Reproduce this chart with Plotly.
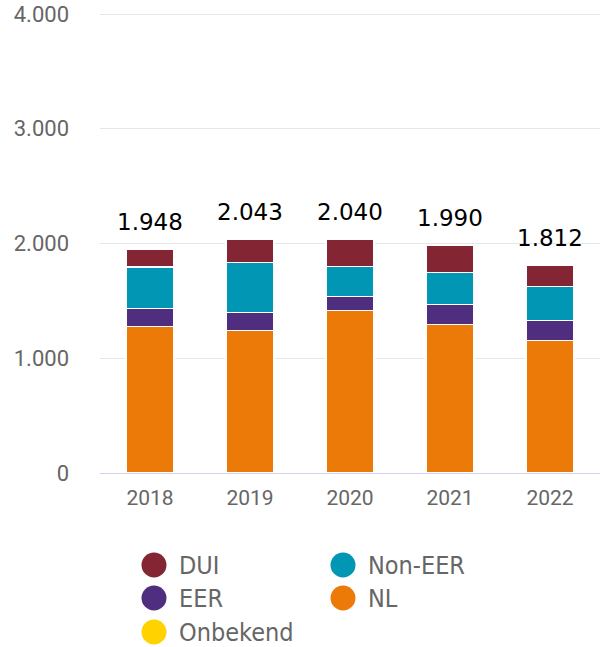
import plotly.graph_objects as go

years = ["2018", "2019", "2020", "2021", "2022"]
nl = [1280, 1245, 1415, 1295, 1158]
eer = [155, 155, 125, 172, 172]
non_eer = [360, 435, 260, 280, 296]
dui = [150, 205, 237, 240, 183]
onbekend = [3, 3, 3, 3, 3]
totals = [1948, 2043, 2040, 1990, 1812]
total_labels = ["1.948", "2.043", "2.040", "1.990", "1.812"]
y_ticks = [0, 1000, 2000, 3000, 4000]
y_tick_labels = ["0", "1.000", "2.000", "3.000", "4.000"]

series = [
    ("NL", nl, "#ec7a08"),
    ("EER", eer, "#4f2d7f"),
    ("Non-EER", non_eer, "#0096b4"),
    ("DUI", dui, "#842533"),
    ("Onbekend", onbekend, "#ffd200"),
]
legend_order = ["DUI", "Non-EER", "EER", "NL", "Onbekend"]
color_of = {n: c for n, _, c in series}

fig = go.Figure()
for name, vals, col in series:
    fig.add_trace(go.Bar(
        x=years, y=vals, name=name, marker_color=col,
        marker_line_color="white", marker_line_width=1.2,
        showlegend=False, hoverinfo="x+y+name",
    ))

# total labels: category axis annotations use the category index
for i, (tot, lab) in enumerate(zip(totals, total_labels)):
    fig.add_annotation(x=i, y=tot, xref="x", yref="y", text=lab, showarrow=False,
                       yanchor="bottom", yshift=12,
                       font=dict(family="DejaVu Sans", size=23, color="#000000"))

W, H = 600, 647
ml, mr, mt, mb = 100, 0, 13, 174
pw, ph = W - ml - mr, H - mt - mb

# custom legend (circles + labels), target pixel centres
col_x = [154, 343]
row_y = [565, 598, 632]
for i, name in enumerate(legend_order):
    cx = col_x[i % 2]
    cy = row_y[i // 2]
    px = (cx - ml) / pw
    py = (H - mb - cy) / ph
    fig.add_shape(type="circle", xref="paper", yref="paper",
                  xsizemode="pixel", ysizemode="pixel",
                  xanchor=px, yanchor=py, x0=-12.5, x1=12.5, y0=-12.5, y1=12.5,
                  fillcolor=color_of[name], line_width=0)
    fig.add_annotation(xref="paper", yref="paper", x=px, y=py, xshift=23,
                       xanchor="left", yanchor="middle", text=name, showarrow=False,
                       font=dict(family="Liberation Sans Narrow, DejaVu Sans Condensed, Arial Narrow, sans-serif",
                                 size=25, color="#666666"))

fig.update_layout(
    barmode="stack",
    bargap=0.52,
    width=W, height=H,
    margin=dict(l=ml, r=mr, t=mt, b=mb, autoexpand=False),
    plot_bgcolor="white", paper_bgcolor="white",
    separators=",.",
    showlegend=False,
    xaxis=dict(type="category", showgrid=False, showline=True, linecolor="#ccd6eb",
               linewidth=1, ticks="", ticklabelstandoff=6,
               tickfont=dict(family="Roboto", size=21, color="#666666")),
    yaxis=dict(range=[0, 4009], tickvals=y_ticks, ticktext=y_tick_labels,
               showgrid=True, gridcolor="#e6e6e6", gridwidth=1, zeroline=False,
               ticklabelstandoff=30, ticklabeloverflow="allow",
               tickfont=dict(family="Roboto", size=22, color="#666666")),
)

fig.write_html("out.html", config={"displayModeBar": False},
               post_script="document.body.style.margin='0';document.body.style.overflow='hidden';")
